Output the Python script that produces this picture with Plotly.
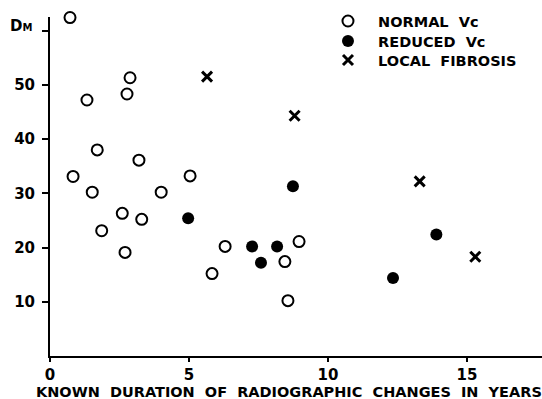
import plotly.graph_objects as go

# Data
normal_x = [0.72, 2.88, 1.33, 2.77, 1.70, 3.20, 0.83, 5.04, 1.52, 4.00, 2.60, 3.30, 1.86, 2.70, 6.30, 8.96, 8.45, 5.83, 8.56]
normal_y = [62.4, 51.3, 47.2, 48.3, 38.0, 36.1, 33.1, 33.2, 30.2, 30.2, 26.3, 25.2, 23.1, 19.1, 20.2, 21.1, 17.4, 15.2, 10.2]
reduced_x = [4.97, 8.74, 7.27, 8.17, 7.59, 13.90, 12.34]
reduced_y = [25.4, 31.3, 20.2, 20.2, 17.2, 22.4, 14.4]
fibrosis_x = [5.65, 8.80, 13.30, 15.30]
fibrosis_y = [51.5, 44.3, 32.2, 18.3]

series_names = ["NORMAL  Vc", "REDUCED  Vc", "LOCAL  FIBROSIS"]

x_ticks = [0, 5, 10, 15]
y_ticks = [10, 20, 30, 40, 50, 60]
y_ticktext = ["10", "20", "30", "40", "50", ""]

FONT = "DejaVu Sans"
PAD = "\u00a0\u00a0"
LEG_FONT = dict(family=FONT, size=14.5, color="black", weight="bold")

fig = go.Figure()
fig.add_trace(go.Scatter(
    x=normal_x, y=normal_y, mode="markers", name=PAD + series_names[0], legend="legend",
    marker=dict(symbol="circle-open", size=11, color="black", line=dict(width=2, color="black")),
    cliponaxis=False))
fig.add_trace(go.Scatter(
    x=reduced_x, y=reduced_y, mode="markers", name=PAD + series_names[1], legend="legend2",
    marker=dict(symbol="circle", size=12, color="black"),
    cliponaxis=False))
fig.add_trace(go.Scatter(
    x=fibrosis_x, y=fibrosis_y, mode="markers", name=PAD + series_names[2], legend="legend3",
    marker=dict(symbol="x-thin", size=10, color="black", line=dict(width=3, color="black")),
    cliponaxis=False))

def leg(ypos):
    return dict(x=0.565, y=ypos, xanchor="left", yanchor="middle", font=LEG_FONT,
                bgcolor="rgba(0,0,0,0)", borderwidth=0)

fig.update_layout(
    width=542, height=399,
    margin=dict(l=50, r=0, t=17, b=43, autoexpand=False),
    paper_bgcolor="white", plot_bgcolor="white",
    font=dict(family=FONT, color="black", size=14),
    showlegend=True,
    legend=leg(0.988),
    legend2=leg(0.929),
    legend3=leg(0.873),
    xaxis=dict(range=[0, 17.7], tickvals=x_ticks, ticks="outside", ticklen=4, tickwidth=2,
               tickcolor="black", showline=True, linewidth=2, linecolor="black",
               showgrid=False, zeroline=False, automargin=False,
               tickfont=dict(family=FONT, size=15, color="black", weight="bold")),
    yaxis=dict(range=[0, 62.5], tickvals=y_ticks, ticktext=y_ticktext, ticks="outside",
               ticklen=6, tickwidth=2, tickcolor="black", showline=True, linewidth=2,
               linecolor="black", showgrid=False, zeroline=False, automargin=False,
               ticklabelstandoff=4,
               tickfont=dict(family=FONT, size=15, color="black", weight="bold")),
    annotations=[
        dict(text="KNOWN  DURATION  OF  RADIOGRAPHIC  CHANGES  IN  YEARS",
             xref="paper", yref="paper", x=0.485, y=0, xanchor="center", yanchor="middle",
             yshift=-36, showarrow=False,
             font=dict(family=FONT, size=14.5, color="black", weight="bold")),
        dict(text="D<span style='font-size:10px'>M</span>",
             xref="paper", yref="y", x=0, y=60, xanchor="right", yanchor="middle",
             xshift=-16, yshift=5, showarrow=False,
             font=dict(family=FONT, size=15, color="black", weight="bold")),
    ],
)

fig.write_html("out.html", config={"displayModeBar": False},
               post_script="document.body.style.margin='0px';")
